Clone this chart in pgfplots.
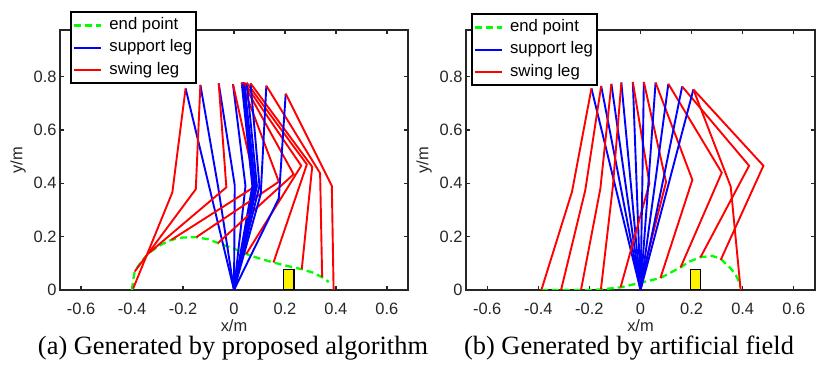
\documentclass[border=0pt]{standalone}
\usepackage{pgfplots}
\pgfplotsset{compat=1.18}
\usepackage{fontspec}
\setmainfont{Liberation Serif}
\newfontfamily\arial{Liberation Sans}
\definecolor{axgray}{gray}{0.15}
\definecolor{mgreen}{rgb}{0,1,0}
\pgfplotsset{
  sup/.style={color=blue, line width=1.9bp},
  sw/.style={color=red, line width=1.9bp},
  endp/.style={color=mgreen, line width=2.3bp, dash pattern=on 7bp off 4bp},
  obst/.style={fill=yellow, draw=black, line width=1.6bp, forget plot},
  panel/.style={
    scale only axis, height=260bp,
    xmin=-0.683, xmax=0.683, ymin=0, ymax=0.975,
    xtick={-0.6,-0.4,-0.2,0,0.2,0.4,0.6},
    xticklabels={-0.6,-0.4,-0.2,0,0.2,0.4,0.6},
    ytick={0,0.2,0.4,0.6,0.8},
    yticklabels={0,0.2,0.4,0.6,0.8},
    tick align=inside, major tick length=4bp,
    axis line style={axgray, line width=1.3bp},
    every tick/.style={axgray, line width=1.3bp},
    tick label style={font=\arial\fontsize{16.5}{18}\selectfont, text=axgray},
    xticklabel style={yshift=-10bp},
    label style={font=\arial\fontsize{16.5}{18}\selectfont, text=axgray},
    xlabel={x/m}, ylabel={y/m},
    xlabel style={at={(axis description cs:0.5,-0.138)}, anchor=center},
    ylabel style={at={(axis description cs:-0.12,0.5)}, anchor=center},
    legend cell align=left,
    legend image code/.code={\draw[#1,line width=2.2bp] (0bp,0bp) -- (27bp,0bp);},
    legend style={draw=black, line width=1.4bp, fill=white, inner sep=1.5bp,
      column sep=5bp, anchor=north west,
      font=\arial\fontsize{16.8}{18}\selectfont,
      nodes={inner xsep=2bp, inner ysep=3.2bp, text height=12bp, text depth=4bp}},
  }
}
\begin{document}
\begin{tikzpicture}
\path[use as bounding box] (0,0) rectangle (831bp,366bp);
% ---------------- left panel ----------------
\begin{axis}[panel, at={(60bp,76bp)}, anchor=south west, width=348bp,
  legend style={at={(0.0316,1.069)}, name=legA}]
\addplot[endp] coordinates {(-0.400,0.000) (-0.397,0.030) (-0.390,0.069) (-0.365,0.105) (-0.335,0.138) (-0.290,0.168) (-0.246,0.188) (-0.200,0.197) (-0.148,0.198) (-0.100,0.190) (-0.063,0.176) (0.000,0.155) (0.048,0.135) (0.100,0.118) (0.155,0.103) (0.210,0.090) (0.266,0.078) (0.310,0.065) (0.346,0.048) (0.372,0.030)};
\addlegendentry{end point}
% F1
\addplot[sup] coordinates {(-0.190,0.756) (-0.095,0.378) (0,0)};
\addlegendentry{support leg}
\addplot[sw] coordinates {(-0.190,0.756) (-0.242,0.366) (-0.396,0.005)};
\addlegendentry{swing leg}
% F2
\addplot[sup,forget plot] coordinates {(-0.132,0.769) (-0.062,0.385) (0,0)};
\addplot[sw,forget plot] coordinates {(-0.132,0.769) (-0.150,0.378) (-0.390,0.069)};
% F3
\addplot[sup,forget plot] coordinates {(-0.060,0.775) (0.003,0.392) (0,0)};
\addplot[sw,forget plot] coordinates {(-0.060,0.775) (-0.030,0.385) (-0.335,0.138)};
% F4
\addplot[sup,forget plot] coordinates {(-0.004,0.772) (0.045,0.390) (0,0)};
\addplot[sw,forget plot] coordinates {(-0.004,0.772) (0.085,0.390) (-0.246,0.188)};
% F5
\addplot[sup,forget plot] coordinates {(0.030,0.778) (0.072,0.390) (0,0)};
\addplot[sw,forget plot] coordinates {(0.030,0.778) (0.176,0.406) (-0.148,0.198)};
% F6
\addplot[sup,forget plot] coordinates {(0.035,0.778) (0.078,0.390) (0,0)};
\addplot[sw,forget plot] coordinates {(0.035,0.778) (0.234,0.434) (-0.063,0.176)};
% F7
\addplot[sup,forget plot] coordinates {(0.040,0.778) (0.084,0.390) (0,0)};
\addplot[sw,forget plot] coordinates {(0.040,0.778) (0.264,0.466) (0.048,0.135)};
% F8
\addplot[sup,forget plot] coordinates {(0.050,0.777) (0.090,0.390) (0,0)};
\addplot[sw,forget plot] coordinates {(0.050,0.777) (0.286,0.471) (0.155,0.103)};
% F9
\addplot[sup,forget plot] coordinates {(0.065,0.775) (0.100,0.390) (0,0)};
\addplot[sw,forget plot] coordinates {(0.065,0.775) (0.307,0.462) (0.266,0.078)};
% F10
\addplot[sup,forget plot] coordinates {(0.127,0.766) (0.105,0.360) (0,0)};
\addplot[sw,forget plot] coordinates {(0.127,0.766) (0.338,0.438) (0.346,0.048)};
% F11
\addplot[sup,forget plot] coordinates {(0.203,0.736) (0.176,0.344) (0,0)};
\addplot[sw,forget plot] coordinates {(0.203,0.736) (0.384,0.390) (0.391,0.000)};
% obstacle
\addplot[obst] coordinates {(0.195,0) (0.195,0.077) (0.235,0.077) (0.235,0)} -- cycle;
\end{axis}
\draw[black, line width=1.4bp] (legA.south west) rectangle (legA.north east);
% ---------------- right panel ----------------
\begin{axis}[panel, at={(466bp,76bp)}, anchor=south west, width=349bp,
  legend style={at={(0.0163,1.0615)}, name=legB}]
\addplot[endp] coordinates {(-0.390,0.000) (-0.300,0.000) (-0.200,0.000) (-0.155,0.002) (-0.078,0.010) (0.000,0.027) (0.078,0.045) (0.157,0.085) (0.190,0.106) (0.235,0.123) (0.281,0.128) (0.314,0.117) (0.353,0.081) (0.373,0.056) (0.386,0.031) (0.390,0.012)};
\addlegendentry{end point}
% F1
\addplot[sup] coordinates {(-0.192,0.756) (-0.096,0.378) (0,0)};
\addlegendentry{support leg}
\addplot[sw] coordinates {(-0.192,0.756) (-0.268,0.369) (-0.388,0.000)};
\addlegendentry{swing leg}
% F2
\addplot[sup,forget plot] coordinates {(-0.154,0.765) (-0.077,0.383) (0,0)};
\addplot[sw,forget plot] coordinates {(-0.154,0.765) (-0.216,0.375) (-0.311,0.000)};
% F3
\addplot[sup,forget plot] coordinates {(-0.114,0.773) (-0.057,0.386) (0,0)};
\addplot[sw,forget plot] coordinates {(-0.114,0.773) (-0.157,0.381) (-0.233,0.000)};
% F4
\addplot[sup,forget plot] coordinates {(-0.075,0.778) (-0.037,0.389) (0,0)};
\addplot[sw,forget plot] coordinates {(-0.075,0.778) (-0.108,0.390) (-0.155,0.002)};
% F5
\addplot[sup,forget plot] coordinates {(-0.030,0.780) (-0.015,0.390) (0,0)};
\addplot[sw,forget plot] coordinates {(-0.030,0.780) (0.035,0.400) (-0.078,0.010)};
% F6
\addplot[sup,forget plot] coordinates {(0.013,0.780) (0.007,0.390) (0,0)};
\addplot[sw,forget plot] coordinates {(0.013,0.780) (0.100,0.405) (0.000,0.027)};
% F7
\addplot[sup,forget plot] coordinates {(0.059,0.778) (0.030,0.389) (0,0)};
\addplot[sw,forget plot] coordinates {(0.059,0.778) (0.203,0.413) (0.078,0.045)};
% F8
\addplot[sup,forget plot] coordinates {(0.109,0.773) (0.055,0.386) (0,0)};
\addplot[sw,forget plot] coordinates {(0.109,0.773) (0.318,0.440) (0.157,0.085)};
% F9
\addplot[sup,forget plot] coordinates {(0.163,0.763) (0.082,0.381) (0,0)};
\addplot[sw,forget plot] coordinates {(0.163,0.763) (0.425,0.466) (0.235,0.123)};
% F10
\addplot[sup,forget plot] coordinates {(0.207,0.752) (0.104,0.376) (0,0)};
\addplot[sw,forget plot] coordinates {(0.207,0.752) (0.481,0.466) (0.314,0.113)};
% F11
\addplot[sw,forget plot] coordinates {(0.207,0.752) (0.353,0.388) (0.392,0.000)};
% obstacle
\addplot[obst] coordinates {(0.195,0) (0.195,0.077) (0.235,0.077) (0.235,0)} -- cycle;
\end{axis}
\draw[black, line width=1.4bp] (legB.south west) rectangle (legB.north east);
% captions
\node[font=\fontsize{26.5}{29}\selectfont] at (233bp,18bp) {(a) Generated by proposed algorithm};
\node[font=\fontsize{26.5}{29}\selectfont] at (629bp,18bp) {(b) Generated by artificial field};
\end{tikzpicture}
\end{document}
